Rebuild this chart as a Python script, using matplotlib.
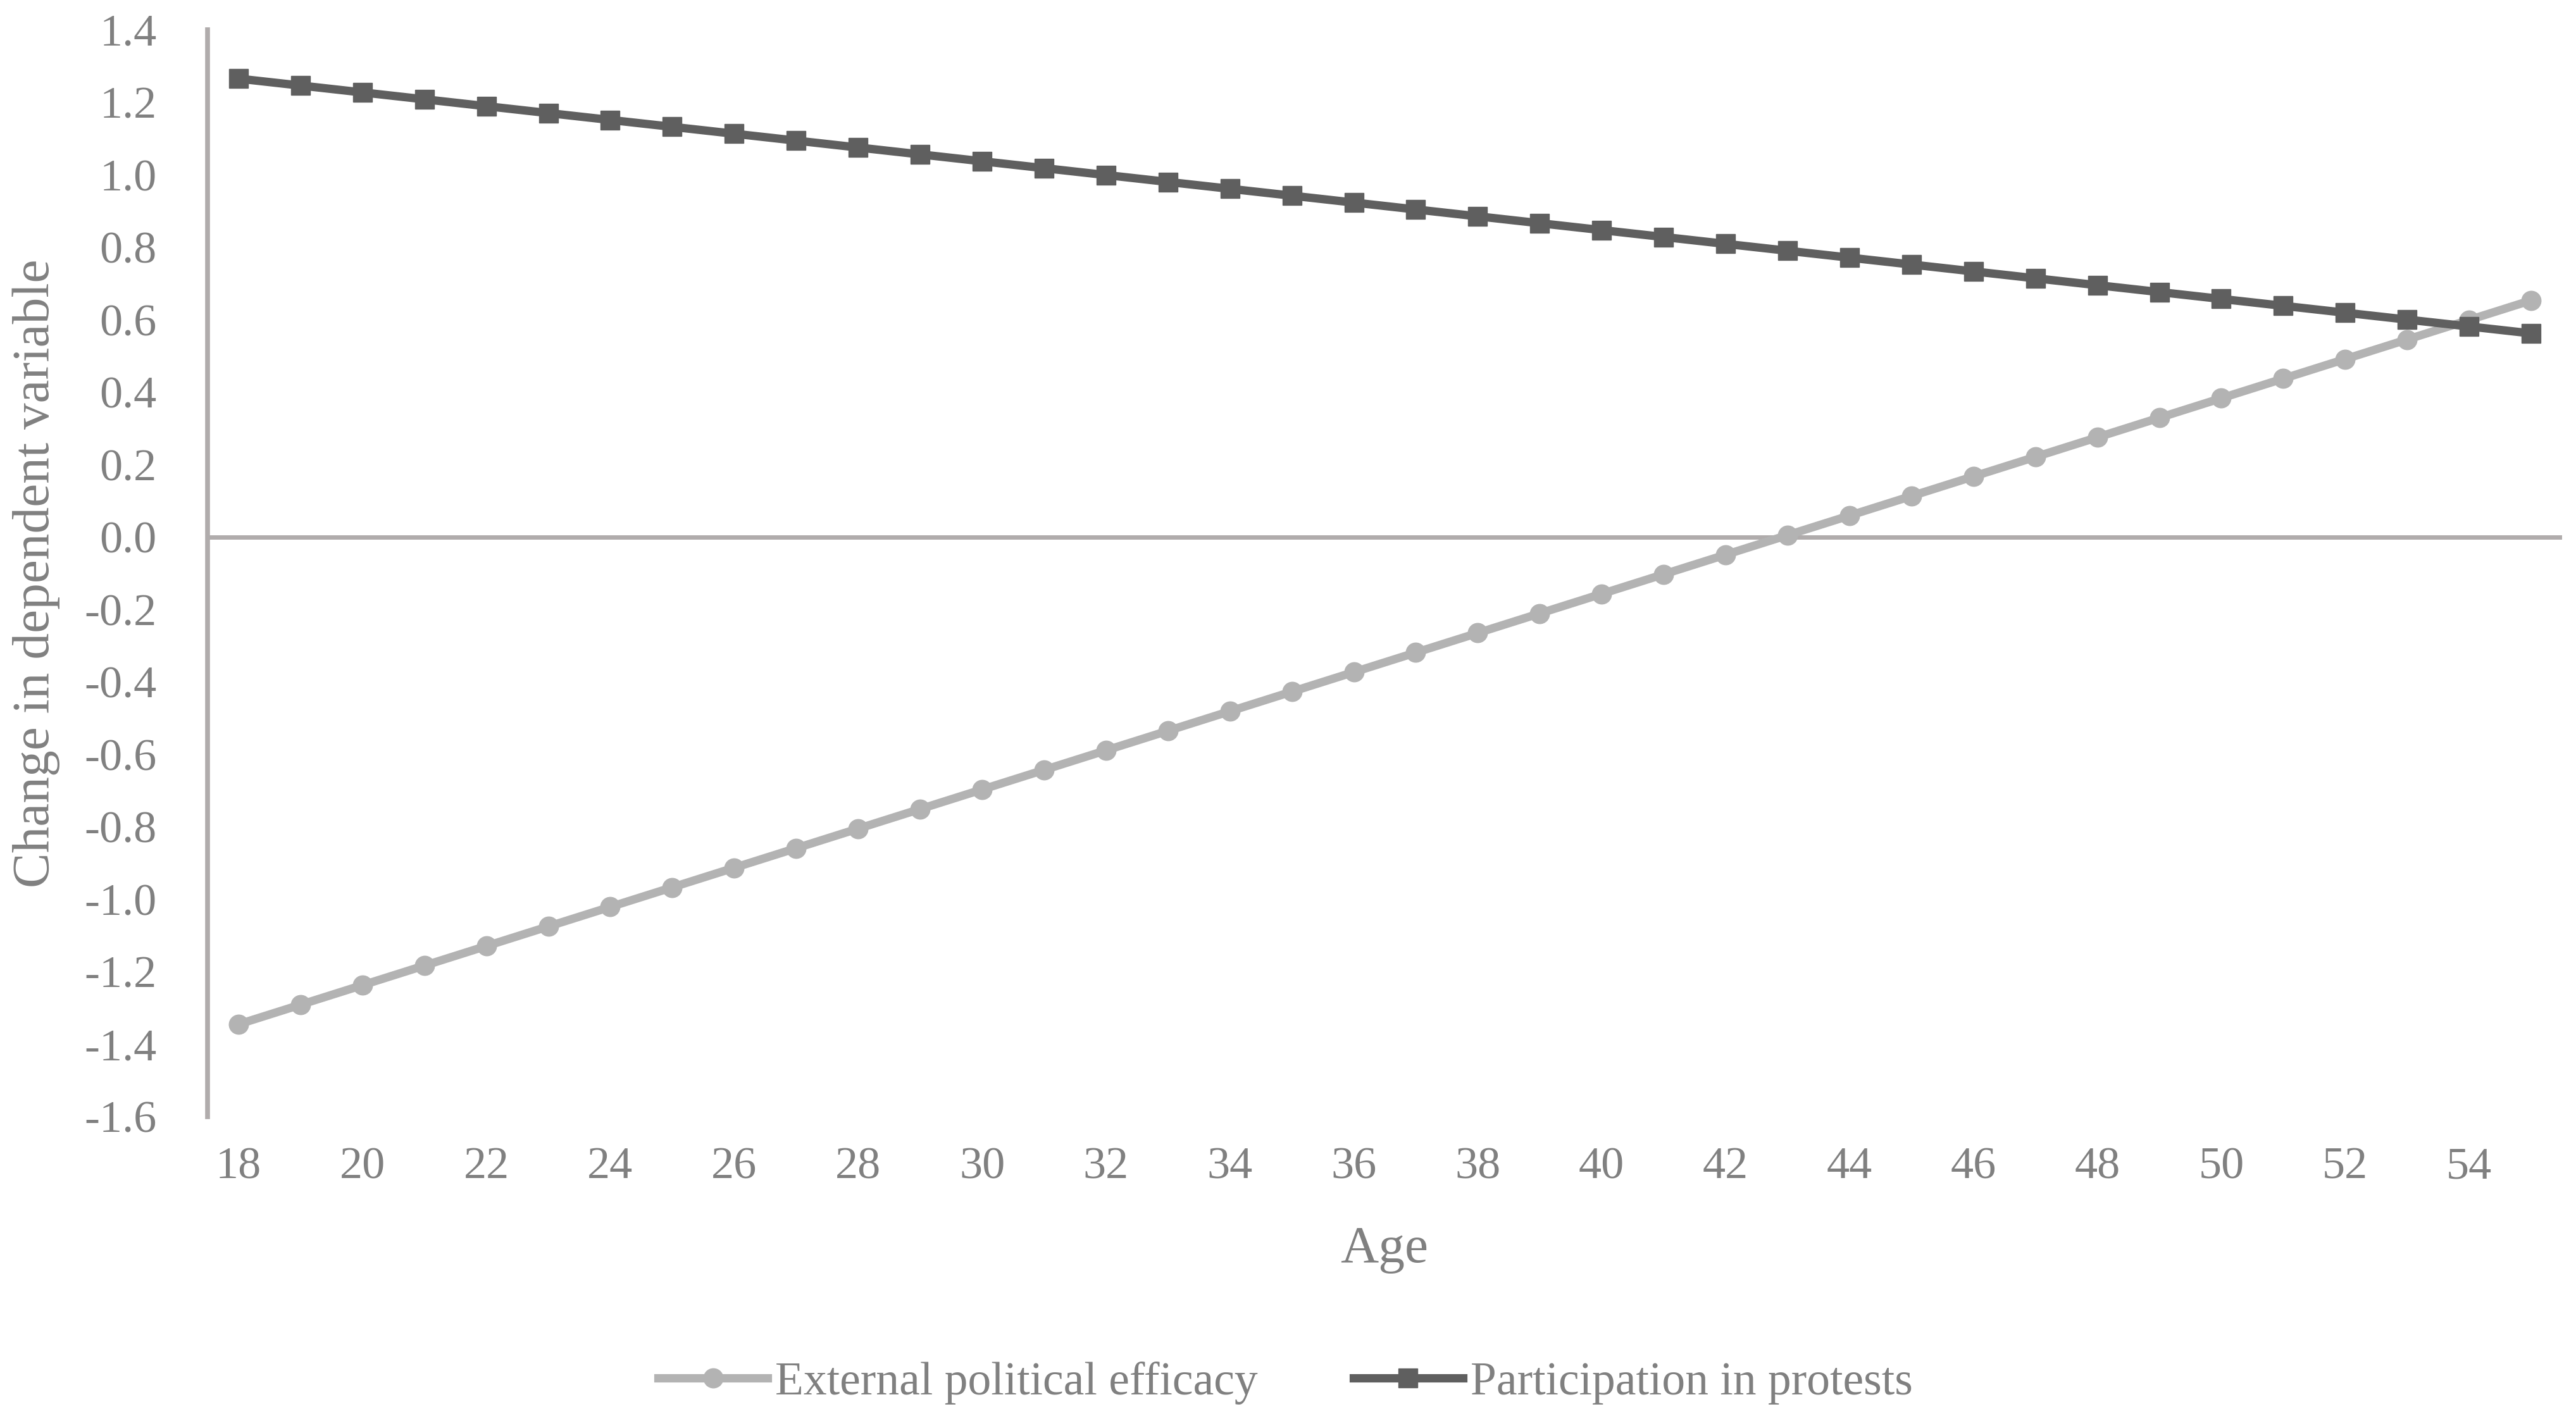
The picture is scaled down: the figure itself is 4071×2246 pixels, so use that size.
import matplotlib
matplotlib.use("Agg")
import matplotlib.pyplot as plt
from matplotlib.ticker import FuncFormatter

# values
ages = list(range(18, 56))

efficacy = [-1.345, -1.291, -1.237, -1.183, -1.129, -1.075, -1.021, -0.967,
            -0.913, -0.859, -0.805, -0.751, -0.697, -0.643, -0.589, -0.535,
            -0.481, -0.427, -0.373, -0.319, -0.265, -0.211, -0.157, -0.103,
            -0.049, 0.005, 0.059, 0.113, 0.167, 0.221, 0.275, 0.329,
            0.383, 0.437, 0.491, 0.545, 0.599, 0.653]

protests = [1.265, 1.246, 1.227, 1.208, 1.189, 1.170, 1.151, 1.132,
            1.113, 1.094, 1.075, 1.056, 1.037, 1.018, 0.999, 0.980,
            0.961, 0.942, 0.923, 0.904, 0.885, 0.866, 0.847, 0.828,
            0.809, 0.790, 0.771, 0.752, 0.733, 0.714, 0.695, 0.676,
            0.657, 0.638, 0.619, 0.600, 0.581, 0.562]

series_names = ["External political efficacy", "Participation in protests"]
x_ticks = list(range(18, 56, 2))
y_ticks = [-1.6, -1.4, -1.2, -1.0, -0.8, -0.6, -0.4, -0.2, 0.0,
           0.2, 0.4, 0.6, 0.8, 1.0, 1.2, 1.4]

plt.rcParams['font.family'] = ['Liberation Serif', 'DejaVu Serif']
text_col = "#808080"
axis_col = "#b0acac"

fig = plt.figure(figsize=(40.71, 22.46), dpi=100)
ax = fig.add_axes([328 / 4071, 1 - 1765 / 2246, (4049 - 328) / 4071, (1765 - 47) / 2246])

ax.plot(ages, efficacy, color="#b3b3b3", lw=9.5, marker="o", ms=22,
        label=series_names[0], zorder=3)
ax.plot(ages, protests, color="#5f5f5f", lw=9.5, marker="s", ms=21,
        label=series_names[1], zorder=4)

ax.axhline(0, color=axis_col, lw=5, zorder=2)

ax.set_xlim(17.5, 55.5)
ax.set_ylim(-1.6, 1.4)
ax.set_xticks(x_ticks)
ax.set_yticks(y_ticks)
ax.yaxis.set_major_formatter(FuncFormatter(lambda v, p: f"{v:.1f}"))

for side in ["top", "right", "bottom"]:
    ax.spines[side].set_visible(False)
ax.spines["left"].set_color(axis_col)
ax.spines["left"].set_linewidth(5.5)

ax.tick_params(axis="both", length=0, labelsize=52, labelcolor=text_col)
ax.tick_params(axis="y", pad=58)
ax.tick_params(axis="x", pad=34)

fig.text(57 / 4071, 1 - 906 / 2246, "Change in dependent variable", rotation=90,
         ha="center", va="center", fontsize=60, color=text_col)
fig.text(2188 / 4071, 1 - 1995 / 2246, "Age", ha="center", va="baseline",
         fontsize=60, color=text_col)

leg = fig.legend(loc="center", bbox_to_anchor=(0.499, 1 - 2186 / 2246), ncol=2,
                 frameon=False, fontsize=53, handlelength=2.35, handletextpad=0.16,
                 columnspacing=2.05)
for t in leg.get_texts():
    t.set_color(text_col)

fig.savefig("out.png", dpi=100, facecolor="white")
